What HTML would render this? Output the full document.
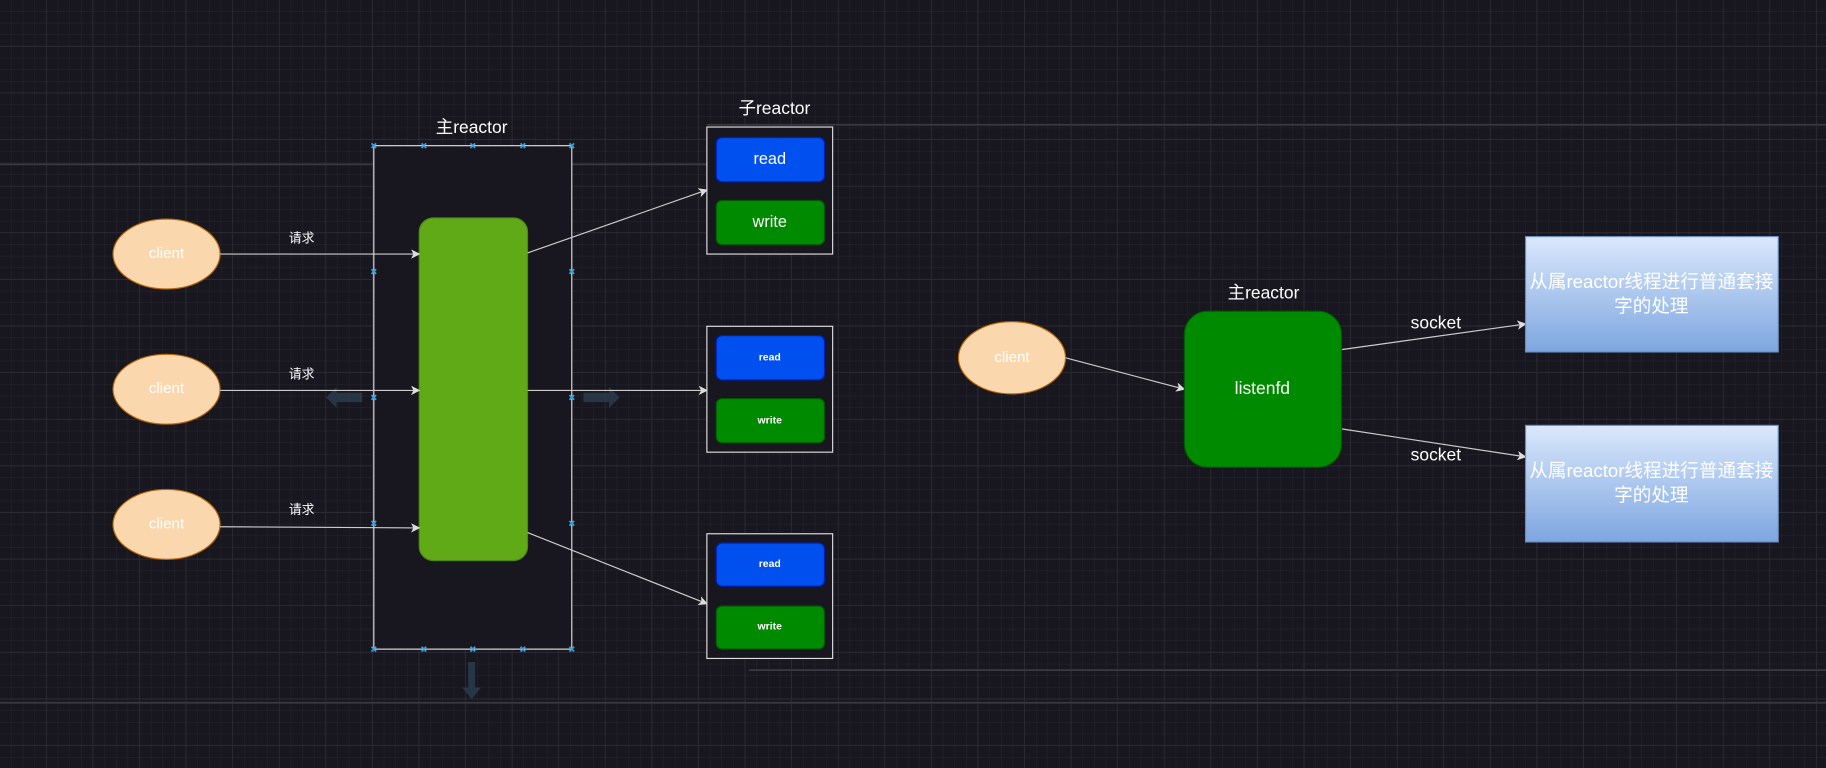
<!DOCTYPE html>
<html><head><meta charset="utf-8"><style>
html,body{margin:0;padding:0;background:#18171f;overflow:hidden}
svg{display:block}
text{font-family:"Liberation Sans","Noto Sans CJK SC",sans-serif;text-anchor:middle;dominant-baseline:middle}
</style></head><body>
<svg width="1826" height="768" viewBox="0 0 1568 659" preserveAspectRatio="none">
<defs>
<pattern id="mg" width="10" height="10" patternUnits="userSpaceOnUse"><path d="M10 0V10H0" fill="none" stroke="#26252d" stroke-width="0.8"/></pattern>
<pattern id="Mg" width="40" height="40" patternUnits="userSpaceOnUse"><path d="M40 0V40H0" fill="none" stroke="#33323a" stroke-width="1"/></pattern>
<linearGradient id="bg" x1="0" y1="0" x2="0" y2="1"><stop offset="0" stop-color="#dae8fc"/><stop offset="1" stop-color="#7ea6e0"/></linearGradient>
<marker id="ar" markerWidth="8" markerHeight="8" refX="7" refY="4" orient="auto" markerUnits="userSpaceOnUse"><path d="M0 0L8 4L0 8L2 4Z" fill="#ddd"/></marker>
</defs>
<rect width="1568" height="659" fill="#18171f"/>
<rect width="1568" height="659" fill="url(#mg)"/>
<rect width="1568" height="659" fill="url(#Mg)"/>
<path d="M0 141H607M607 107H1568M0 603H1568M643 575H1568" stroke="#3a3940" stroke-width="1.5"/>

<text x="405" y="110" fill="#fff" font-size="15">主reactor</text>
<rect x="321" y="125" width="170" height="432" fill="#18171f" stroke="#ddd" stroke-width="1"/>
<g stroke="#3aa0d8" stroke-width="1.5">
<path d="M319 123l4 4m0-4l-4 4M362 123l4 4m0-4l-4 4M404 123l4 4m0-4l-4 4M447 123l4 4m0-4l-4 4M489 123l4 4m0-4l-4 4"/>
<path d="M319 555l4 4m0-4l-4 4M362 555l4 4m0-4l-4 4M404 555l4 4m0-4l-4 4M447 555l4 4m0-4l-4 4M489 555l4 4m0-4l-4 4"/>
<path d="M319 231l4 4m0-4l-4 4M319 339l4 4m0-4l-4 4M319 447l4 4m0-4l-4 4M489 231l4 4m0-4l-4 4M489 339l4 4m0-4l-4 4M489 447l4 4m0-4l-4 4"/>
</g>
<rect x="360" y="187" width="93" height="294" rx="12" fill="#60a917" stroke="#4d8a12"/>

<g fill="#2c3e50" opacity="0.8">
<path d="M280 341l9-9v5h22v8h-22v5z"/>
<path d="M532 341l-9-9v5h-22v8h22v5z"/>
<path d="M405 600l-8-10h5v-22h6v22h5z"/>
</g>

<g fill="#fad7ac" stroke="#b46504">
<ellipse cx="143" cy="218" rx="46" ry="30"/>
<ellipse cx="143" cy="334" rx="46" ry="30"/>
<ellipse cx="143" cy="450" rx="46" ry="30"/>
<ellipse cx="869" cy="307" rx="46" ry="31"/>
</g>
<g fill="#fff" font-size="13"><text x="143" y="218">client</text><text x="143" y="334">client</text><text x="143" y="450">client</text><text x="869" y="307">client</text></g>

<g stroke="#ccc" stroke-width="1" fill="none" marker-end="url(#ar)">
<path d="M189 218L360 218"/><path d="M189 335L360 335"/><path d="M189 452L360 453"/>
<path d="M453 217L607 163"/><path d="M453 335L607 335"/><path d="M453 457L607 518"/>
<path d="M915 307L1017 334"/><path d="M1152 300L1310 278"/><path d="M1152 368L1310 392"/>
</g>
<g fill="#fff" font-size="11"><text x="259" y="205">请求</text><text x="259" y="322">请求</text><text x="259" y="438">请求</text></g>

<text x="665" y="94" fill="#fff" font-size="15">子reactor</text>
<g fill="#18171f" stroke="#ddd"><rect x="607" y="109" width="108" height="109"/><rect x="607" y="280" width="108" height="108"/><rect x="607" y="458" width="108" height="107"/></g>
<g fill="#0050ef" stroke="#001dbc"><rect x="615" y="118" width="93" height="38" rx="5"/><rect x="615" y="288" width="93" height="38" rx="5"/><rect x="615" y="466" width="93" height="37" rx="5"/></g>
<g fill="#008a00" stroke="#005700"><rect x="615" y="172" width="93" height="38" rx="5"/><rect x="615" y="342" width="93" height="38" rx="5"/><rect x="615" y="520" width="93" height="37" rx="5"/></g>
<g fill="#fff"><text x="661" y="137" font-size="14">read</text><text x="661" y="191" font-size="14">write</text>
<text x="661" y="307" font-size="9" font-weight="bold">read</text><text x="661" y="361" font-size="9" font-weight="bold">write</text>
<text x="661" y="484" font-size="9" font-weight="bold">read</text><text x="661" y="538" font-size="9" font-weight="bold">write</text></g>

<text x="1085" y="252" fill="#fff" font-size="15">主reactor</text>
<rect x="1017" y="267" width="135" height="134" rx="20" fill="#008a00" stroke="#005700"/>
<text x="1084" y="334" fill="#fff" font-size="15">listenfd</text>
<g fill="#fff" font-size="15"><text x="1233" y="278">socket</text><text x="1233" y="391">socket</text></g>
<g fill="url(#bg)" stroke="#6c8ebf"><rect x="1310" y="203" width="217" height="99"/><rect x="1310" y="365" width="217" height="100"/></g>
<g fill="#fff" font-size="16"><text x="1418" y="243">从属reactor线程进行普通套接</text><text x="1418" y="264">字的处理</text>
<text x="1418" y="405">从属reactor线程进行普通套接</text><text x="1418" y="426">字的处理</text></g>
</svg>
</body></html>
